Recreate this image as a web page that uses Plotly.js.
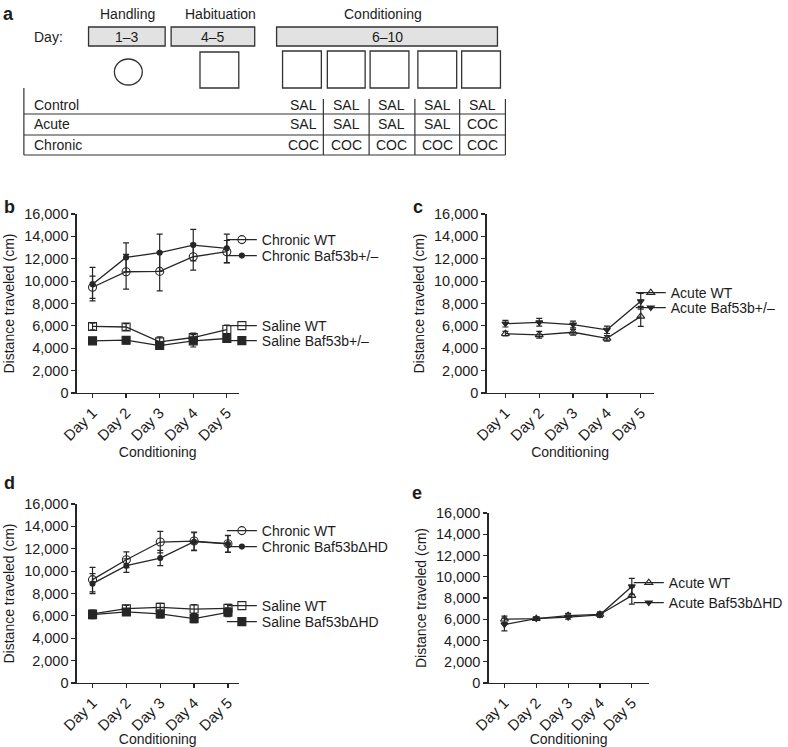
<!DOCTYPE html>
<html>
<head>
<meta charset="utf-8">
<script src="https://cdn.plot.ly/plotly-3.0.1.min.js"></script>
<style>html,body{margin:0;padding:0;background:#fff;}#chart{width:788px;height:747px;}</style>
</head>
<body>
<div id="chart"></div>
<script>
// ---------- data ----------
var days = ["Day 1", "Day 2", "Day 3", "Day 4", "Day 5"];

// panel b (Baf53b+/-)
var chronicWT_b = [9450, 10840, 10870, 12180, 12630];
var chronicWT_b_err = [1000, 1550, 1740, 1200, 1000];
var chronicHet_b = [9730, 12120, 12540, 13220, 12930];
var chronicHet_b_err = [1500, 1300, 1670, 1410, 1280];
var salineWT_b = [5950, 5900, 4570, 4960, 5670];
var salineWT_b_err = [300, 300, 450, 400, 400];
var salineHet_b = [4660, 4720, 4240, 4660, 4870];
var salineHet_b_err = [300, 300, 300, 550, 350];

// panel c (acute, Baf53b+/-)
var acuteWT_c = [5300, 5200, 5430, 4880, 6850];
var acuteWT_c_err = [200, 300, 250, 250, 900];
var acuteHet_c = [6200, 6320, 6120, 5650, 8200];
var acuteHet_c_err = [300, 350, 300, 330, 700];

// panel d (Baf53bΔHD)
var chronicWT_d = [9240, 11020, 12600, 12690, 12450];
var chronicWT_d_err = [1100, 700, 960, 800, 750];
var chronicHD_d = [8880, 10490, 11170, 12630, 12430];
var chronicHD_d_err = [900, 600, 680, 800, 750];
var salineWT_d = [6170, 6640, 6760, 6610, 6670];
var salineWT_d_err = [350, 300, 350, 400, 350];
var salineHD_d = [6110, 6350, 6170, 5750, 6320];
var salineHD_d_err = [350, 300, 350, 350, 400];

// panel e (acute, Baf53bΔHD)
var acuteWT_e = [6000, 6060, 6350, 6450, 8220];
var acuteWT_e_err = [300, 150, 200, 250, 800];
var acuteHD_e = [5500, 6060, 6200, 6420, 9090];
var acuteHD_e_err = [600, 150, 200, 200, 750];

// schematic (panel a) labels
var phaseNames = ["Handling", "Habituation", "Conditioning"];
var phaseDays = ["1\u20133", "4\u20135", "6\u201310"];
var groupNames = ["Control", "Acute", "Chronic"];
var groupTreatments = [
  ["SAL", "SAL", "SAL", "SAL", "SAL"],
  ["SAL", "SAL", "SAL", "SAL", "COC"],
  ["COC", "COC", "COC", "COC", "COC"]
];

// ---------- helpers ----------
var W = 788, H = 747;
function X(px) { return px / W; }
function Y(py) { return 1 - py / H; }
var FONT = "Liberation Sans, Arial, Helvetica, sans-serif";
var INK = "#262626";
var TXT = "#1c1c1c";

function series(x, y, err, name, symbol, size, xa, ya, legendKey) {
  return {
    type: "scatter", mode: "lines+markers",
    x: x, y: y, name: name,
    xaxis: xa, yaxis: ya, legend: legendKey,
    line: {color: INK, width: 1.3},
    marker: {symbol: symbol, size: size, color: INK, line: {color: INK, width: 1.1}},
    error_y: {type: "data", array: err, visible: true, color: INK, thickness: 1.2, width: 3}
  };
}

var traces = [
  series(days, chronicWT_b, chronicWT_b_err, "Chronic WT", "circle-open", 8, "x", "y", "legend"),
  series(days, chronicHet_b, chronicHet_b_err, "Chronic Baf53b+/\u2013", "circle", 5, "x", "y", "legend2"),
  series(days, salineWT_b, salineWT_b_err, "Saline WT", "square-open", 8, "x", "y", "legend3"),
  series(days, salineHet_b, salineHet_b_err, "Saline Baf53b+/\u2013", "square", 8, "x", "y", "legend4"),
  series(days, acuteWT_c, acuteWT_c_err, "Acute WT", "triangle-up-open", 7, "x2", "y2", "legend5"),
  series(days, acuteHet_c, acuteHet_c_err, "Acute Baf53b+/\u2013", "triangle-down", 6, "x2", "y2", "legend6"),
  series(days, chronicWT_d, chronicWT_d_err, "Chronic WT", "circle-open", 8, "x3", "y3", "legend7"),
  series(days, chronicHD_d, chronicHD_d_err, "Chronic Baf53b\u0394HD", "circle", 5, "x3", "y3", "legend8"),
  series(days, salineWT_d, salineWT_d_err, "Saline WT", "square-open", 8, "x3", "y3", "legend9"),
  series(days, salineHD_d, salineHD_d_err, "Saline Baf53b\u0394HD", "square", 8, "x3", "y3", "legend10"),
  series(days, acuteWT_e, acuteWT_e_err, "Acute WT", "triangle-up-open", 7, "x4", "y4", "legend11"),
  series(days, acuteHD_e, acuteHD_e_err, "Acute Baf53b\u0394HD", "triangle-down", 6, "x4", "y4", "legend12")
];

function xAxis(x0, x1, range, anchor) {
  return {
    domain: [X(x0), X(x1)], range: range, anchor: anchor,
    type: "category", categoryorder: "array", categoryarray: days,
    showline: true, linecolor: INK, linewidth: 1.2,
    ticks: "outside", ticklen: 4, tickcolor: INK, tickwidth: 1.2,
    tickangle: -45, showgrid: false, zeroline: false, automargin: false,
    tickfont: {family: FONT, size: 15, color: TXT},
    title: {text: "Conditioning", font: {family: FONT, size: 14, color: TXT}, standoff: 0}
  };
}
function yAxis(y0, y1, anchor) {
  return {
    domain: [Y(y1), Y(y0)], range: [0, 16000], anchor: anchor,
    tickmode: "linear", tick0: 0, dtick: 2000, tickformat: ",",
    showline: true, linecolor: INK, linewidth: 1.2,
    ticks: "outside", ticklen: 4, tickcolor: INK, tickwidth: 1.2,
    showgrid: false, zeroline: false, automargin: false,
    tickfont: {family: FONT, size: 14.5, color: TXT},
    title: {text: "Distance traveled (cm)", font: {family: FONT, size: 14, color: TXT}, standoff: 6}
  };
}

// legends: one per entry for exact placement
var legendSpots = [
  [263, 240], [263, 256], [263, 326], [263, 341],
  [674, 293], [674, 308],
  [263, 531], [263, 547], [263, 606], [263, 622],
  [672, 583], [672, 603]
];

var layout = {
  width: W, height: H,
  margin: {l: 0, r: 0, t: 0, b: 0},
  paper_bgcolor: "#fff", plot_bgcolor: "rgba(0,0,0,0)",
  font: {family: FONT, size: 14, color: TXT},
  showlegend: true,
  xaxis: xAxis(77, 240, [-0.474, 4.356], "y"),
  yaxis: yAxis(214, 393, "x"),
  xaxis2: xAxis(489, 657, [-0.559, 4.382], "y2"),
  yaxis2: yAxis(214, 393, "x2"),
  xaxis3: xAxis(77, 240, [-0.47, 4.32], "y3"),
  yaxis3: yAxis(504, 683, "x3"),
  xaxis4: xAxis(491, 652, [-0.5, 4.53], "y4"),
  yaxis4: yAxis(513, 683, "x4"),
  shapes: [],
  annotations: []
};

legendSpots.forEach(function (s, i) {
  var key = i === 0 ? "legend" : "legend" + (i + 1);
  layout[key] = {
    x: X(s[0] - 40), y: Y(s[1]), xref: "paper", yref: "paper",
    xanchor: "left", yanchor: "middle",
    bgcolor: "rgba(0,0,0,0)", borderwidth: 0,
    font: {family: FONT, size: 14, color: TXT},
    itemclick: false, itemdoubleclick: false
  };
});

// ---------- panel a schematic ----------
function rect(x0, y0, x1, y1, fill) {
  layout.shapes.push({type: "rect", xref: "paper", yref: "paper",
    x0: X(x0), x1: X(x1), y0: Y(y1), y1: Y(y0),
    fillcolor: fill || "rgba(0,0,0,0)", line: {color: "#333", width: 1.3}});
}
function hline(x0, x1, y, w) {
  layout.shapes.push({type: "line", xref: "paper", yref: "paper",
    x0: X(x0), x1: X(x1), y0: Y(y), y1: Y(y), line: {color: "#333", width: w || 1.2}});
}
function vline(x, y0, y1, w) {
  layout.shapes.push({type: "line", xref: "paper", yref: "paper",
    x0: X(x), x1: X(x), y0: Y(y0), y1: Y(y1), line: {color: "#333", width: w || 1.2}});
}
function text(str, x, y, size, anchor, bold) {
  layout.annotations.push({xref: "paper", yref: "paper", x: X(x), y: Y(y),
    text: bold ? "<b>" + str + "</b>" : str, showarrow: false,
    xanchor: anchor || "center", yanchor: "middle",
    font: {family: FONT, size: size || 14, color: TXT}});
}

// phase boxes
var phaseBoxes = [[89, 166], [172, 256], [278, 500]];
var phaseCenters = [128, 222, 385];
phaseBoxes.forEach(function (b, i) {
  rect(b[0], 27, b[1], 46, "#e2e2e2");
  text(phaseDays[i], (b[0] + b[1]) / 2, 37, 14);
  text(phaseNames[i], phaseCenters[i], 14, 14);
});
text("Day:", 32, 37, 14, "left");
// handling cage (circle)
layout.shapes.push({type: "circle", xref: "paper", yref: "paper",
  x0: X(115), x1: X(143), y0: Y(85), y1: Y(59),
  fillcolor: "#fff", line: {color: "#333", width: 1.3}});
// habituation box
rect(201, 52, 240, 88);
// conditioning boxes
var condBoxes = [[284, 323], [329, 367], [372, 411], [420, 459], [464, 503]];
condBoxes.forEach(function (b) { rect(b[0], 51, b[1], 88); });

// table
vline(24, 88, 155);
hline(24, 508, 114);
hline(24, 508, 135);
hline(24, 508, 155);
var colSeps = [325, 371, 417, 462, 508];
colSeps.forEach(function (x) { vline(x, 99, 155); });
var rowY = [105, 124, 145];
var colCenters = [305, 348, 393, 440, 485];
groupNames.forEach(function (g, r) {
  text(g, 32, rowY[r], 14, "left");
  groupTreatments[r].forEach(function (t, c) { text(t, colCenters[c], rowY[r], 14); });
});

// panel letters
text("a", 1, 14, 18, "left", true);
text("b", 2, 207, 18, "left", true);
text("c", 413, 207, 18, "left", true);
text("d", 2, 483, 18, "left", true);
text("e", 412, 493, 18, "left", true);

Plotly.newPlot("chart", traces, layout, {staticPlot: true, displayModeBar: false});
</script>
</body>
</html>
